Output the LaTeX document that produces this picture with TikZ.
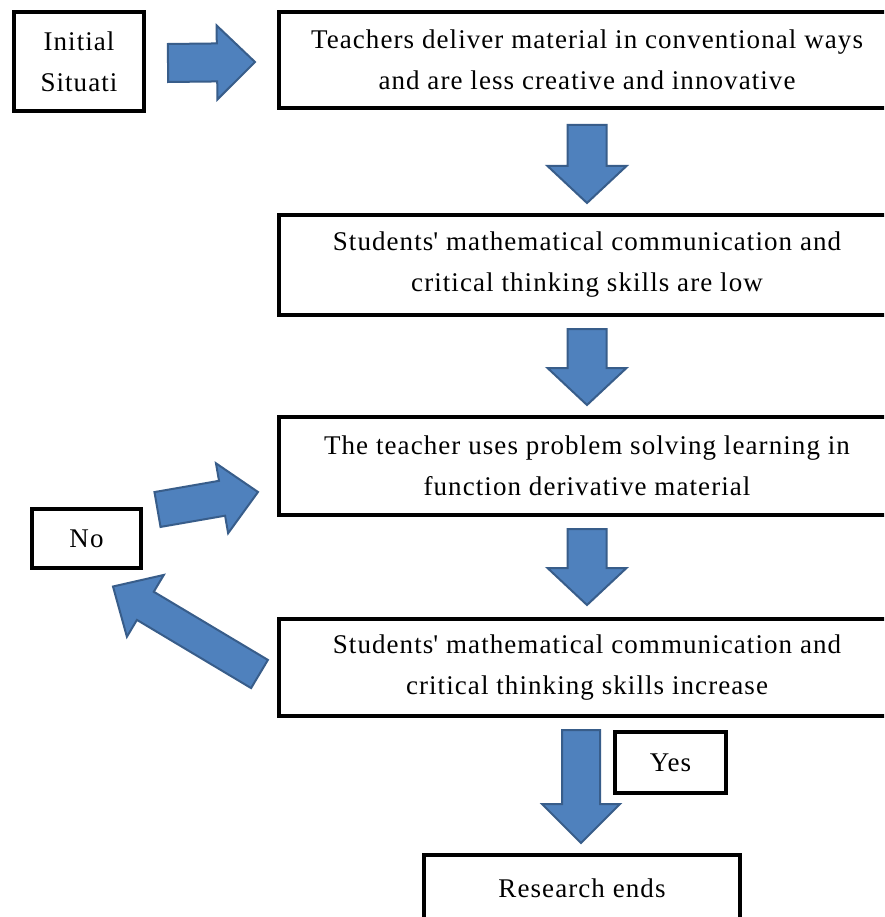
\documentclass[tikz,border=0pt]{standalone}
\usepackage{fontspec}
\setmainfont{Liberation Serif}[LetterSpace=4]
\usetikzlibrary{calc}
\definecolor{arrfill}{HTML}{4F81BD}
\definecolor{arrline}{HTML}{385D8A}
\tikzset{
  box/.style={draw=black, line width=4pt, fill=white, align=center, inner sep=0pt,
    font=\fontsize{27}{41}\selectfont},
  blockarrow/.style={fill=arrfill, draw=arrline, line width=2pt, line join=miter}
}
% #1 start coordinate name, #2 tip coordinate name, #3 shaft half width, #4 head half width, #5 head length
\newcommand{\blockarr}[5]{%
  \coordinate (#1-hb) at ($(#2)!#5!(#1)$);
  \draw[blockarrow] ($(#1)!#3!90:(#2)$) -- ($(#1-hb)!#3!90:(#2)$) -- ($(#1-hb)!#4!90:(#2)$)
    -- (#2) -- ($(#1-hb)!#4!-90:(#2)$) -- ($(#1-hb)!#3!-90:(#2)$) -- ($(#1)!#3!-90:(#2)$) -- cycle;
}
\begin{document}
\begin{tikzpicture}[x=1pt,y=-1pt]
\useasboundingbox (0,0) rectangle (884,917);
\clip (0,0) rectangle (884,917);
\fill[white] (0,0) rectangle (884,917);
% boxes
\node[box, minimum width=130pt, minimum height=99pt] (init) at (79,61.5) {Initial\\Situati};
\node[box, minimum width=616pt, minimum height=96pt] (b1) at (587,60) {Teachers deliver material in conventional ways\\and are less creative and innovative};
\node[box, minimum width=616pt, minimum height=100pt] (b2) at (587,265) {Students\textquotesingle\ mathematical communication and\\critical thinking skills are low};
\node[box, minimum width=616pt, minimum height=98pt] (b3) at (587,466) {The teacher uses problem solving learning in\\function derivative material};
\node[box, minimum width=616pt, minimum height=97pt] (b4) at (587,667.5) {Students\textquotesingle\ mathematical communication and\\critical thinking skills increase};
\node[box, minimum width=109pt, minimum height=59pt] (no) at (86.5,538.5) {No};
\node[box, minimum width=111pt, minimum height=61pt] (yes) at (670.5,762.5) {Yes};
\node[box, minimum width=316pt, minimum height=66pt] (end) at (582,888) {Research ends};
% arrow end points
\coordinate (a0s) at ($(init.east)+(22,1.5)$);
\coordinate (a0t) at ($(b1.west |- a0s)+(-22,-1)$);
\coordinate (a1s) at ($(b1.south)+(0,15)$);
\coordinate (a1t) at ($(b2.north)+(0,-10)$);
\coordinate (a2s) at ($(b2.south)+(0,12)$);
\coordinate (a2t) at ($(b3.north)+(0,-10)$);
\coordinate (a3s) at ($(b3.south)+(0,12)$);
\coordinate (a3t) at ($(b4.north)+(0,-12)$);
\coordinate (a4s) at ($(b4.south)+(-6,12)$);
\coordinate (a4t) at ($(end.north)+(-1,-10)$);
\coordinate (a5s) at (157.5,509.5);
\coordinate (a5t) at ($(b3.west)+(-19,26)$);
\coordinate (a6s) at ($(b4.west)+(-17.5,6.5)$);
\coordinate (a6t) at ($(no.south)+(26.5,16.5)$);
\blockarr{a0s}{a0t}{19pt}{37pt}{38pt}
\blockarr{a1s}{a1t}{19.5pt}{39.5pt}{37pt}
\blockarr{a2s}{a2t}{19.5pt}{39.5pt}{37pt}
\blockarr{a3s}{a3t}{19.5pt}{39.5pt}{37pt}
\blockarr{a4s}{a4t}{19pt}{39pt}{39pt}
\blockarr{a5s}{a5t}{17.7pt}{35.5pt}{36.5pt}
\blockarr{a6s}{a6t}{16.4pt}{36pt}{37.7pt}
\end{tikzpicture}
\end{document}
